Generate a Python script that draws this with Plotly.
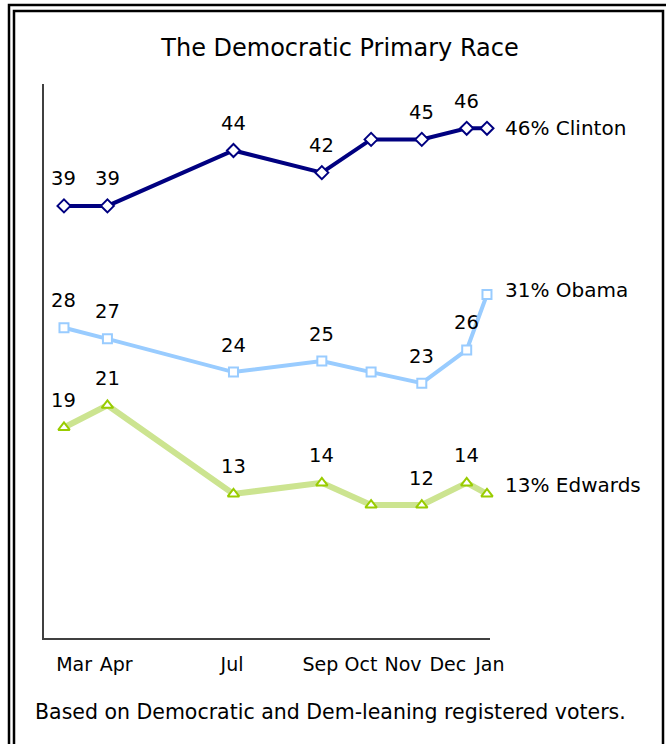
import plotly.graph_objects as go

# ---- data ----
survey_dates = ["2007-03-20", "2007-04-19", "2007-07-15", "2007-09-14",
                "2007-10-18", "2007-11-22", "2007-12-23", "2008-01-06"]
clinton = [39, 39, 44, 42, 45, 45, 46, 46]
obama = [28, 27, 24, 25, 24, 23, 26, 31]
edwards = [19, 21, 13, 14, 12, 12, 14, 13]
label_shown = [True, True, True, True, False, True, True, False]

tick_dates = ["2007-03-27", "2007-04-25", "2007-07-14", "2007-09-13",
              "2007-10-11", "2007-11-09", "2007-12-10", "2008-01-08"]
tick_labels = ["Mar", "Apr", "Jul", "Sep", "Oct", "Nov", "Dec", "Jan"]

series = [
    # name, values, line colour, marker colour, symbol, line width, marker size, end-label shift
    ("Clinton", clinton, "#000080", "#000080", "diamond", 4, 10, 0),
    ("Obama", obama, "#99CCFF", "#99CCFF", "square", 4, 9, 5),
    ("Edwards", edwards, "#CCE490", "#99CC00", "triangle-up", 6, 10, 9),
]

FONT = "DejaVu Sans, Verdana, sans-serif"
W, H = 666, 744
L, R, T, B = 44, 490, 84, 638

fig = go.Figure()
for name, vals, lc, mc, sym, lw, ms, endshift in series:
    fig.add_trace(go.Scatter(
        x=survey_dates, y=vals, mode="lines+markers", name=name,
        line=dict(color=lc, width=lw),
        marker=dict(symbol=sym, size=ms, color="white", line=dict(color=mc, width=2)),
        cliponaxis=False, showlegend=False,
    ))
    for d, v, s in zip(survey_dates, vals, label_shown):
        if s:
            fig.add_annotation(x=d, y=v, text=str(v), showarrow=False,
                               yanchor="middle", xanchor="center", yshift=27,
                               font=dict(family=FONT, size=19.5, color="black"))
    fig.add_annotation(
        x=survey_dates[-1], y=vals[-1], text=f"{vals[-1]}% {name}",
        showarrow=False, xanchor="left", yanchor="middle", xshift=16, yshift=endshift,
        font=dict(family=FONT, size=20, color="black"),
    )

def px(x):
    return (x - L) / (R - L)

def py(y):
    return (B - y) / (B - T)

shapes = []
for (x0, y0, x1, y1) in [(9, 5, 668, 760), (14, 11, 663, 760)]:
    shapes.append(dict(type="rect", xref="paper", yref="paper",
                       x0=px(x0), x1=px(x1), y0=py(y1), y1=py(y0),
                       line=dict(color="black", width=2.5), layer="below"))

fig.update_layout(
    width=W, height=H,
    margin=dict(l=L, r=W - R, t=T, b=H - B),
    paper_bgcolor="white", plot_bgcolor="white",
    shapes=shapes,
    title=dict(text="The Democratic Primary Race", x=340 / W, xref="container",
               xanchor="center", y=1 - 48 / H, yref="container", yanchor="middle",
               font=dict(family=FONT, size=24, color="black")),
    xaxis=dict(type="date", range=["2007-03-06 05:00", "2008-01-08 02:00"],
               tickvals=tick_dates, ticktext=tick_labels, ticks="",
               showgrid=False, zeroline=False, showline=True,
               linecolor="#404040", linewidth=1.5,
               tickfont=dict(family=FONT, size=19, color="black"), ticklabelstandoff=8),
    yaxis=dict(range=[0, 50], showgrid=False, zeroline=False, showline=True,
               linecolor="#404040", linewidth=1.5, showticklabels=False, ticks=""),
)
fig.add_annotation(
    text="Based on Democratic and Dem-leaning registered voters.",
    xref="paper", yref="paper", x=px(33), y=py(712), xanchor="left", yanchor="middle",
    showarrow=False, font=dict(family=FONT, size=20.5, color="black"),
)

fig.write_html("out.html", config={"displayModeBar": False},
               post_script="document.body.style.margin='0';")
